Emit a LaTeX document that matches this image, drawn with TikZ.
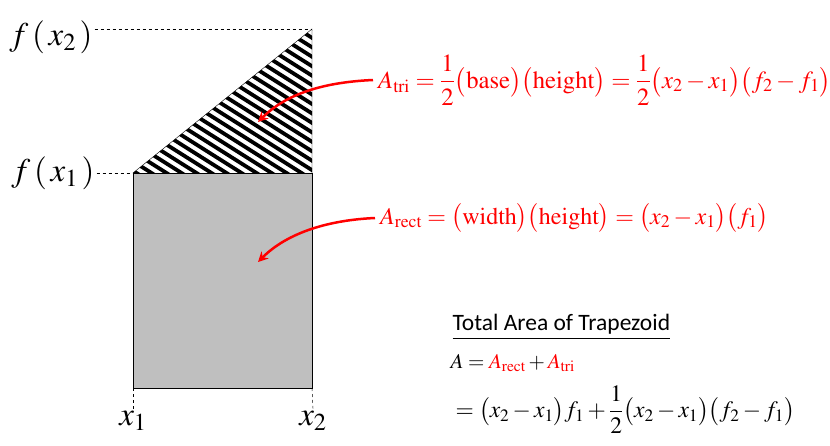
\documentclass[tikz,border=0pt]{standalone}
\usepackage{mathptmx}
\usepackage{fontspec}
\setmainfont{Liberation Serif}
\newfontfamily\calibri{Carlito}
\usetikzlibrary{arrows.meta}
\definecolor{rectgray}{RGB}{191,191,191}
\begin{document}
\begin{tikzpicture}[x=1pt,y=-1pt,
    lbl/.style={font=\fontsize{33}{36}\selectfont,inner sep=2pt},
    eq/.style={text=red,font=\fontsize{24}{28}\selectfont,anchor=west,inner sep=0pt},
    callout/.style={red,line width=2.5pt,-{Stealth[length=10pt,width=10pt]}},
    guide/.style={dashed,thin}]
    \useasboundingbox (0,0) rectangle (830,445);

    % Corners of the trapezoid
    \coordinate (p1) at (133,173);
    \coordinate (p2) at (312,173);
    \coordinate (top) at (312,29);
    \coordinate (b1) at (133,388);
    \coordinate (b2) at (312,388);

    % Rectangle part
    \draw[fill=rectgray] (p1) rectangle (b2);

    % Triangle part, hatched
    \begin{scope}
        \clip (p1) -- (top) -- (p2) -- cycle;
        \foreach \k in {-240,-225,...,180}
            \draw[line width=3.8pt] (133+\k,29) -- ++(300,189);
    \end{scope}
    \draw (p1) -- (top) -- (p2);

    % Axis labels
    \node[lbl] (fx2) at (51,37) {$f\,(\,x_2\,)$};
    \node[lbl] (fx1) at (53,173) {$f\,(\,x_1\,)$};
    \node[lbl,anchor=north] (xa) at (133,409) {$x_1$};
    \node[lbl,anchor=north] (xb) at (313,409) {$x_2$};

    % Guide lines
    \draw[guide] (fx2.east |- top) -- (top);
    \draw[guide] (fx1.east |- p1) -- (p1);
    \draw[guide] (b1) -- (xa.north);
    \draw[guide] (b2) -- (xb.north);

    % Area formulas
    \node[eq,font=\fontsize{24.7}{28}\selectfont] (trieq) at (378,80) {$\displaystyle A_{\mathrm{tri}} = \frac{1}{2}\bigl(\mathrm{base}\bigr)\bigl(\mathrm{height}\bigr) = \frac{1}{2}\bigl(x_2 - x_1\bigr)\bigl(f_2 - f_1\bigr)$};
    \node[eq] (recteq) at (380,218) {$A_{\mathrm{rect}} = \bigl(\mathrm{width}\bigr)\bigl(\mathrm{height}\bigr) = \bigl(x_2 - x_1\bigr)\bigl(f_1\bigr)$};

    % Callout arrows
    \coordinate (tritip) at (258,122);
    \coordinate (recttip) at (258,262);
    \draw[callout] ([xshift=-5pt]trieq.west) .. controls +(-45,2) and +(30,-30) .. (tritip);
    \draw[callout] ([xshift=-5pt]recteq.west) .. controls +(-45,2) and +(30,-30) .. (recttip);

    % Total area
    \node[anchor=west,font=\calibri\fontsize{23.5}{26}\selectfont] (title) at (449,327) {\underline{Total Area of Trapezoid}};
    \node[anchor=west,font=\fontsize{21}{24}\selectfont] (sum) at (447,363) {$A = {\color{red}A_{\mathrm{rect}}} + {\color{red}A_{\mathrm{tri}}}$};
    \node[anchor=west,font=\fontsize{23.5}{27}\selectfont] (expand) at (452,410) {$\displaystyle = \bigl(x_2 - x_1\bigr) f_1 + \frac{1}{2}\bigl(x_2 - x_1\bigr)\bigl(f_2 - f_1\bigr)$};
\end{tikzpicture}
\end{document}
